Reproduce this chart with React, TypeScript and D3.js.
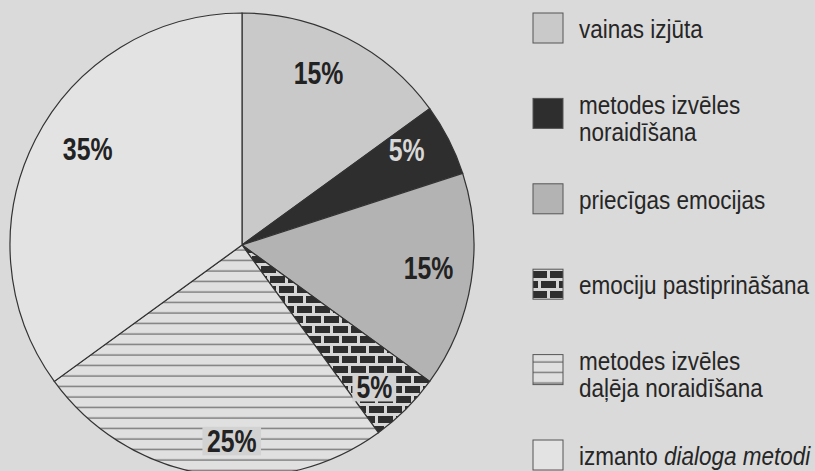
import React from 'react';
import * as d3 from 'd3';

// slice shares, clockwise from 12 o'clock
const categories = [
  'vainas izjūta',
  'metodes izvēles noraidīšana',
  'priecīgas emocijas',
  'emociju pastiprināšana',
  'metodes izvēles daļēja noraidīšana',
  'izmanto dialoga metodi',
];
const values = [15, 5, 15, 5, 25, 35];
const labels = ['15%', '5%', '15%', '5%', '25%', '35%'];

// legend text lines (second part of a line is italic)
const legendLines = [
  [['vainas izjūta']],
  [['metodes izvēles'], ['noraidīšana']],
  [['priecīgas emocijas']],
  [['emociju pastiprināšana']],
  [['metodes izvēles'], ['daļēja noraidīšana']],
  [['izmanto ', 'dialoga metodi']],
];

const fills = ['#c9c9c9', '#2e2e2e', '#b3b3b3', 'url(#brick)', 'url(#hlines)', '#e3e3e3'];
const labelFill = ['#222', '#d8d8d8', '#222', '#222', '#222', '#222'];
const labelBox = [false, false, false, true, true, false];
const labelNudge = [-3, -3, -2, 2, -6, 5]; // degrees
const labelRadius = [188, 190, 188, 194, 196, 182];

const W = 815;
const H = 471;
const cx = 242;
const cy = 245;
const R = 232;
const squeeze = 0.8; // no condensed font installed

export default function App() {
  const pie = d3.pie<number>().sort(null).value(d => d);
  const arcs = pie(values);
  const arc = d3.arc<d3.PieArcDatum<number>>().innerRadius(0).outerRadius(R);

  const font = "'Liberation Sans', Arial, sans-serif";
  const legendY = d3.scaleLinear().domain([0, 5]).range([13, 440]);

  return (
    <svg width={W} height={H} style={{ position: 'absolute', left: 0, top: 0 }}>
      <defs>
        <pattern id="brick" patternUnits="userSpaceOnUse" width={18} height={20}>
          <rect width={18} height={20} fill="#d6d6d6" />
          <rect x={1} y={1} width={15} height={7} fill="#2e2e2e" />
          <rect x={-8} y={11} width={15} height={7} fill="#2e2e2e" />
          <rect x={10} y={11} width={15} height={7} fill="#2e2e2e" />
        </pattern>
        <pattern id="hlines" patternUnits="userSpaceOnUse" width={20} height={10.5}>
          <rect width={20} height={10.5} fill="#e0e0e0" />
          <line x1={0} x2={20} y1={5} y2={5} stroke="#707070" strokeWidth={1.3} />
        </pattern>
      </defs>
      <rect width={W} height={H} fill="#dadada" />

      <g transform={`translate(${cx},${cy})`}>
        {arcs.map((a, i) => (
          <path key={i} d={arc(a) ?? ''} fill={fills[i]} stroke="#333" strokeWidth={1.2} />
        ))}
        {arcs.map((a, i) => {
          const ang = (a.startAngle + a.endAngle) / 2 + (labelNudge[i] * Math.PI) / 180;
          const r = labelRadius[i];
          const x = Math.sin(ang) * r;
          const y = -Math.cos(ang) * r;
          const fs = 31;
          const w = labels[i].length * fs * 0.6 * squeeze;
          return (
            <g key={i} transform={`translate(${x},${y})`}>
              {labelBox[i] && (
                <rect x={-w / 2 - 7} y={-fs * 0.45} width={w + 14} height={fs * 0.92} fill="#d2d2d2" />
              )}
              <text
                transform={`scale(${squeeze},1)`}
                textAnchor="middle"
                dy="0.36em"
                fontFamily={font}
                fontWeight="bold"
                fontSize={fs}
                fill={labelFill[i]}
              >
                {labels[i]}
              </text>
            </g>
          );
        })}
      </g>

      <g fontFamily={font} fontSize={25} fill="#262626">
        {categories.map((c, i) => {
          const y0 = legendY(i);
          const lines = legendLines[i];
          const base = lines.length === 1 ? y0 + 25 : y0 + 15.5;
          return (
            <g key={c}>
              <rect
                x={533}
                y={y0}
                width={30}
                height={30}
                fill={fills[i]}
                stroke="#555"
                strokeWidth={1}
              />
              {lines.map((ln, j) => (
                <text
                  key={j}
                  transform={`translate(579,${base + j * 27}) scale(0.9,1)`}
                >
                  {ln[0]}
                  {ln[1] && <tspan fontStyle="italic">{ln[1]}</tspan>}
                </text>
              ))}
            </g>
          );
        })}
      </g>
    </svg>
  );
}
